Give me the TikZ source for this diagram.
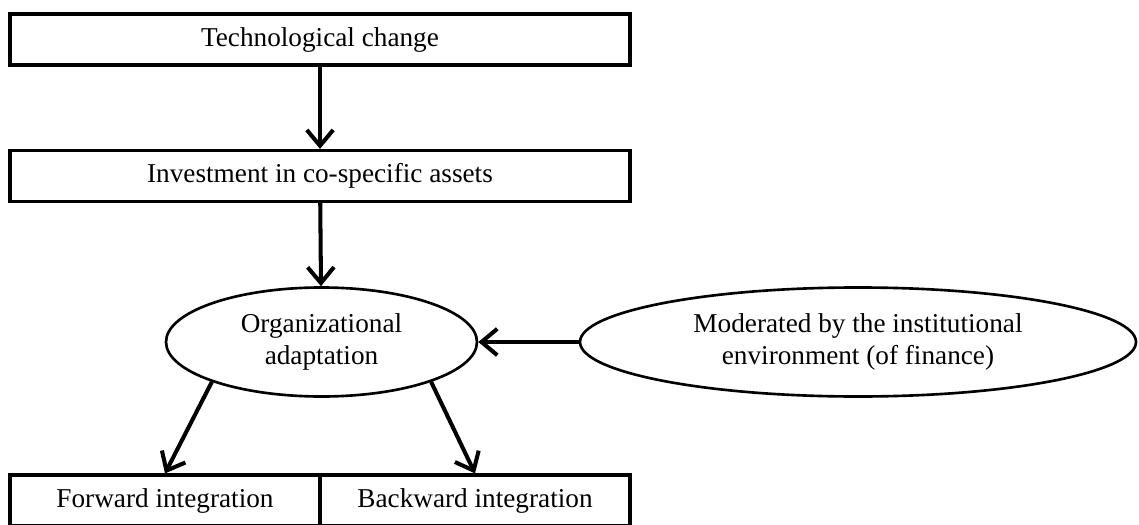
\documentclass[tikz,border=0pt]{standalone}
\usepackage{fontspec}
\setmainfont{Liberation Serif}
\usetikzlibrary{shapes,arrows.meta}

\begin{document}
\begin{tikzpicture}[
  box/.style={draw, line width=1.8pt, rectangle, inner sep=0pt, minimum height=1.02cm},
  oval/.style={draw, line width=1.5pt, ellipse, inner sep=0pt, minimum height=2.18cm, align=center},
  arr/.style={line width=2.3pt, -{Straight Barb[length=9pt,width=15pt]}},
  font=\fontsize{15.5}{18.5}\selectfont]
\useasboundingbox (0,0) rectangle (22.78,-10.48);
\node [box, minimum width=12.4cm] (tech) at (6.4,-0.79) {Technological change};
\node [box, minimum width=12.4cm] (invest) at (6.4,-3.52) {Investment in co-specific assets};
\node [oval, minimum width=6.22cm] (orga) at (6.43,-6.84) {Organizational\\adaptation};
\node [oval, minimum width=11.12cm] (moder) at (17.16,-6.84) {Moderated by the institutional\\environment (of finance)};
\node [box, minimum width=6.2cm] (forward) at (3.3,-10.01) {Forward integration};
\node [box, minimum width=6.2cm] (backward) at (9.5,-10.01) {Backward integration};
\draw [arr] (tech) -- (invest);
\draw [arr] (invest) -- (orga);
\draw [arr] (moder) -- (orga);
\draw [arr] (orga.200) -- (forward.north);
\draw [arr] (orga.-20) -- (backward.north);
\end{tikzpicture}
\end{document}
